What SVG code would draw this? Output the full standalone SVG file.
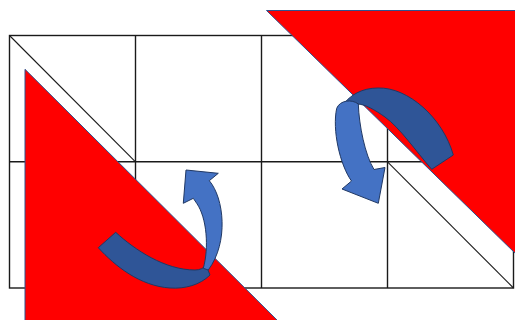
<svg xmlns="http://www.w3.org/2000/svg" width="515" height="320" viewBox="0 0 515 320">
<style>
.grid{fill:none;stroke:#1a1a1a;stroke-width:1.4}
.diag{fill:none;stroke:#1a1a1a;stroke-width:1.1}
.tri{fill:#ff0000;stroke:#2f528f;stroke-width:1}
.back{fill:#2f5597;stroke:#203864;stroke-width:1}
.front{fill:#4472c4;stroke:#203864;stroke-width:1}
</style>
<rect width="515" height="320" fill="#ffffff"/>
<g id="grid">
<rect class="grid" x="9.5" y="35.5" width="504" height="252.5"/>
<line class="grid" x1="135.5" y1="35.5" x2="135.5" y2="288"/>
<line class="grid" x1="261.5" y1="35.5" x2="261.5" y2="288"/>
<line class="grid" x1="387.5" y1="35.5" x2="387.5" y2="288"/>
<line class="grid" x1="9.5" y1="161.8" x2="513.5" y2="161.8"/>
</g>
<g id="diagonals">
<line class="diag" x1="9.5" y1="35.5" x2="135.5" y2="161.8"/>
<line class="diag" x1="387.5" y1="161.8" x2="513.5" y2="288"/>
</g>
<g id="triangle-left">
<polygon class="tri" points="25,69.3 25,323 280,323"/>
</g>
<g id="triangle-right">
<polygon class="tri" points="266.5,10.5 518,10.5 518,256"/>
</g>
<g id="arrow-lower">
<path class="back" d="M98.3,247.7 L115.7,232.3 C135,250 165,270 195,270 C200,270 204,268 206,265 L210,275 C200,285 185,289 170,288 C140,286 115,266 98.3,247.7 Z"/>
<path class="front" d="M203.3,268.3 C209,248 207,218 196.7,203.3 L193.3,198.3 L183.3,203.3 L186,170 L218.3,173.3 L209.3,180.7 C224,198 229,242 208.3,270 Z"/>
</g>
<g id="arrow-upper">
<path class="back" d="M453.3,155 C443,118 408,87 378,88 C362,88 350,95 343,105 L357,104 C365,104 375,110 385,117 C400,128 415,150 431.7,169.3 Z"/>
<path class="front" d="M358.3,104 C359,125 365,155 374,169.5 L385,167.5 L378.3,203.3 L342,189 L351.5,181 C340,165 332,130 336.7,108.3 C340,100 352,99 358.3,104 Z"/>
</g>
</svg>
